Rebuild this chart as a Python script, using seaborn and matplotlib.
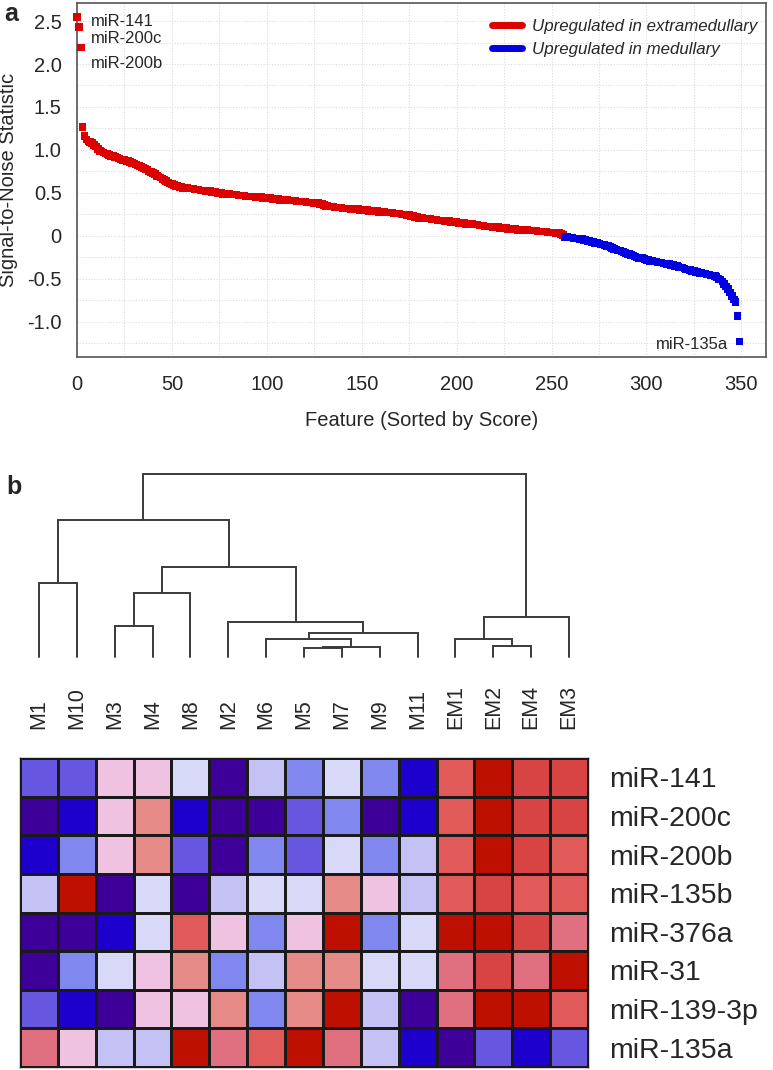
import numpy as np
import pandas as pd
import matplotlib
matplotlib.use("Agg")
import matplotlib.pyplot as plt
from matplotlib.colors import ListedColormap
from matplotlib.lines import Line2D
from matplotlib.ticker import MultipleLocator
import seaborn as sns

# ---------------- data: panel a ----------------
up_extramedullary = [
    2.55, 2.43, 2.19, 1.27, 1.16, 1.12, 1.10, 1.09, 1.08, 1.06,
    1.04, 1.01, 0.99, 0.98, 0.97, 0.96, 0.95, 0.94, 0.93, 0.93,
    0.92, 0.91, 0.90, 0.89, 0.88, 0.88, 0.87, 0.87, 0.86, 0.85,
    0.84, 0.83, 0.82, 0.81, 0.80, 0.79, 0.78, 0.77, 0.75, 0.74,
    0.73, 0.72, 0.70, 0.69, 0.68, 0.66, 0.65, 0.64, 0.62, 0.61,
    0.60, 0.59, 0.58, 0.58, 0.57, 0.57, 0.56, 0.56, 0.56, 0.55,
    0.55, 0.55, 0.54, 0.54, 0.54, 0.53, 0.53, 0.53, 0.52, 0.52,
    0.52, 0.51, 0.51, 0.51, 0.50, 0.50, 0.50, 0.49, 0.49, 0.49,
    0.49, 0.48, 0.48, 0.48, 0.48, 0.47, 0.47, 0.47, 0.47, 0.46,
    0.46, 0.46, 0.46, 0.46, 0.45, 0.45, 0.45, 0.45, 0.44, 0.44,
    0.44, 0.44, 0.44, 0.43, 0.43, 0.43, 0.43, 0.42, 0.42, 0.42,
    0.42, 0.42, 0.41, 0.41, 0.41, 0.41, 0.40, 0.40, 0.40, 0.40,
    0.40, 0.39, 0.39, 0.39, 0.39, 0.38, 0.38, 0.38, 0.37, 0.37,
    0.36, 0.35, 0.35, 0.34, 0.34, 0.34, 0.33, 0.33, 0.33, 0.33,
    0.32, 0.32, 0.32, 0.32, 0.31, 0.31, 0.31, 0.31, 0.31, 0.30,
    0.30, 0.30, 0.30, 0.30, 0.29, 0.29, 0.29, 0.29, 0.29, 0.28,
    0.28, 0.28, 0.28, 0.27, 0.27, 0.27, 0.27, 0.26, 0.26, 0.26,
    0.26, 0.25, 0.25, 0.25, 0.24, 0.24, 0.23, 0.23, 0.22, 0.22,
    0.21, 0.21, 0.21, 0.20, 0.20, 0.20, 0.20, 0.19, 0.19, 0.19,
    0.18, 0.18, 0.18, 0.18, 0.17, 0.17, 0.17, 0.16, 0.16, 0.16,
    0.16, 0.15, 0.15, 0.15, 0.15, 0.14, 0.14, 0.14, 0.14, 0.13,
    0.13, 0.13, 0.12, 0.12, 0.12, 0.11, 0.11, 0.11, 0.11, 0.10,
    0.10, 0.10, 0.10, 0.09, 0.09, 0.09, 0.09, 0.08, 0.08, 0.08,
    0.08, 0.08, 0.07, 0.07, 0.07, 0.07, 0.07, 0.07, 0.06, 0.06,
    0.06, 0.06, 0.06, 0.05, 0.05, 0.05, 0.05, 0.05, 0.04, 0.04,
    0.04, 0.04, 0.03, 0.03, 0.03, 0.02, 0.01,
]
up_medullary = [
    -0.01, -0.01, -0.02, -0.02, -0.02, -0.03, -0.03, -0.03, -0.04, -0.04,
    -0.05, -0.05, -0.06, -0.06, -0.07, -0.07, -0.08, -0.08, -0.09, -0.10,
    -0.10, -0.11, -0.12, -0.12, -0.13, -0.14, -0.15, -0.16, -0.17, -0.17,
    -0.18, -0.19, -0.20, -0.21, -0.21, -0.22, -0.23, -0.24, -0.25, -0.26,
    -0.26, -0.26, -0.27, -0.28, -0.28, -0.29, -0.29, -0.30, -0.30, -0.31,
    -0.31, -0.31, -0.32, -0.32, -0.33, -0.33, -0.34, -0.34, -0.35, -0.35,
    -0.36, -0.37, -0.37, -0.38, -0.39, -0.39, -0.40, -0.41, -0.41, -0.42,
    -0.42, -0.43, -0.43, -0.44, -0.44, -0.45, -0.45, -0.46, -0.46, -0.47,
    -0.48, -0.50, -0.51, -0.53, -0.56, -0.59, -0.62, -0.66, -0.70, -0.74,
    -0.77, -0.93, -1.23,
]
group_names = ["Upregulated in extramedullary", "Upregulated in medullary"]
group_colors = ["#dd0000", "#0000e0"]
top_labels = ["miR-141", "miR-200c", "miR-200b"]
top_label_y = [2.50, 2.30, 2.01]
bottom_label = "miR-135a"
x_ticks = [0, 50, 100, 150, 200, 250, 300, 350]
y_ticks = [-1.0, -0.5, 0, 0.5, 1.0, 1.5, 2.0, 2.5]
y_tick_labels = ["-1.0", "-0.5", "0", "0.5", "1.0", "1.5", "2.0", "2.5"]

# ---------------- data: panel b ----------------
samples = ["M1", "M10", "M3", "M4", "M8", "M2", "M6", "M5", "M7", "M9", "M11",
           "EM1", "EM2", "EM4", "EM3"]
mirnas = ["miR-141", "miR-200c", "miR-200b", "miR-135b", "miR-376a",
          "miR-31", "miR-139-3p", "miR-135a"]
# colour-bin level (0 = lowest, 11 = highest), row-normalised expression
levels = [
    [2, 2, 6, 6, 5, 0, 4, 3, 5, 3, 1, 9, 11, 10, 10],
    [0, 1, 6, 7, 1, 0, 0, 2, 3, 0, 1, 9, 11, 10, 10],
    [1, 3, 6, 7, 2, 0, 3, 2, 5, 3, 4, 9, 11, 10, 9],
    [4, 11, 0, 5, 0, 4, 5, 5, 7, 6, 4, 9, 10, 9, 9],
    [0, 0, 1, 5, 9, 6, 3, 6, 11, 3, 5, 11, 11, 10, 8],
    [0, 3, 5, 6, 7, 3, 4, 7, 7, 5, 5, 8, 10, 8, 11],
    [2, 1, 0, 6, 6, 7, 3, 7, 11, 4, 0, 8, 11, 11, 9],
    [8, 6, 4, 4, 11, 8, 9, 11, 8, 4, 1, 0, 2, 1, 2],
]
heat_colors = ["#3d0098", "#1e00cc", "#6656e0", "#8088f0", "#c4c2f4", "#d8d8f8",
               "#f0c2e2", "#e68a88", "#e07080", "#e05a5a", "#d84444", "#be1000"]
# dendrogram merges: (left, right, height)
dendro_merges = [
    ("M5", "M7", 9),
    ("n0", "M9", 10),
    ("M6", "n1", 18),
    ("n2", "M11", 24),
    ("M2", "n3", 35),
    ("M3", "M4", 31),
    ("n5", "M8", 64),
    ("n6", "n4", 90),
    ("M1", "M10", 74),
    ("n8", "n7", 137),
    ("EM2", "EM4", 11),
    ("EM1", "n10", 18),
    ("n11", "EM3", 40),
    ("n9", "n12", 183),
]

# ---------------- style ----------------
sns.set_style("white")
plt.rcParams["font.family"] = ["Liberation Sans", "DejaVu Sans"]

W, H = 773, 1070
fig = plt.figure(figsize=(W / 100, H / 100), dpi=100)


def box(l, t, r, b):
    return [l / W, 1 - b / H, (r - l) / W, (b - t) / H]


# ---------------- panel a ----------------
ax = fig.add_axes(box(77, 3, 766, 357))
scores = up_extramedullary + up_medullary
df = pd.DataFrame({
    "rank": np.arange(len(scores)),
    "score": scores,
    "group": [group_names[0]] * len(up_extramedullary) + [group_names[1]] * len(up_medullary),
})
sns.scatterplot(data=df, x="rank", y="score", hue="group", palette=group_colors,
                marker="s", s=30, linewidth=0, legend=False, ax=ax, clip_on=False, zorder=3)
ax.set_xlim(0, 363)
ax.set_ylim(-1.41, 2.71)
ax.set_xticks(x_ticks)
ax.set_xticklabels([str(v) for v in x_ticks])
ax.set_yticks(y_ticks)
ax.set_yticklabels(y_tick_labels)
ax.xaxis.set_minor_locator(MultipleLocator(25))
ax.yaxis.set_minor_locator(MultipleLocator(0.25))
ax.grid(True, which="both", color="#dcdcdc", linestyle=(0, (1, 1.5)), linewidth=0.8)
ax.tick_params(axis="both", which="major", labelsize=14.5, length=3, color="#555", direction="out")
ax.tick_params(axis="x", which="major", pad=10)
ax.tick_params(axis="y", which="major", pad=8)
ax.tick_params(axis="both", which="minor", length=0)
for s in ax.spines.values():
    s.set_color("#555")
    s.set_linewidth(1.2)
ax.set_xlabel("Feature (Sorted by Score)", fontsize=14.5, labelpad=12)
ax.set_ylabel("Signal-to-Noise Statistic", fontsize=14.5)
ax.yaxis.set_label_coords(-0.086, 0.5)

for lab, yv in zip(top_labels, top_label_y):
    ax.text(7.5, yv, lab, fontsize=12, va="center", ha="left")
ax.text(343, -1.27, bottom_label, fontsize=12, va="center", ha="right")

handles = [Line2D([0], [0], color=c, lw=5) for c in group_colors]
leg = ax.legend(handles, group_names, loc="upper left", bbox_to_anchor=(0.603, 0.955),
                frameon=False, borderpad=0, borderaxespad=0, handlelength=1.75,
                handletextpad=0.6, labelspacing=0.45,
                prop={"size": 12.2, "style": "italic", "family": ["Liberation Sans"]})

fig.text(4 / W, 1 - 14 / H, "a", fontsize=18, fontweight="bold", va="center", ha="left")

# ---------------- panel b: dendrogram ----------------
axd = fig.add_axes(box(20, 474, 588, 657))
pos = {name: i + 0.5 for i, name in enumerate(samples)}
hgt = {name: 0.0 for name in samples}
for k, (a, b, h) in enumerate(dendro_merges):
    xa, xb = pos[a], pos[b]
    ha_, hb_ = hgt[a], hgt[b]
    axd.plot([xa, xa, xb, xb], [ha_, h, h, hb_], color="#3a3a3a", lw=1.4,
             solid_joinstyle="miter", clip_on=False)
    pos[f"n{k}"] = (xa + xb) / 2
    hgt[f"n{k}"] = h
axd.set_xlim(0, len(samples))
axd.set_ylim(0, 183)
axd.axis("off")

fig.text(6 / W, 1 - 487 / H, "b", fontsize=18, fontweight="bold", va="center", ha="left")

# ---------------- panel b: heatmap ----------------
axh = fig.add_axes(box(20, 758, 588, 1067))
hm = pd.DataFrame(levels, index=mirnas, columns=samples)
sns.heatmap(hm, cmap=ListedColormap(heat_colors), vmin=-0.5, vmax=11.5, cbar=False,
            linewidths=1.0, linecolor="#1a1a1a", ax=axh)
axh.xaxis.tick_top()
axh.yaxis.tick_right()
axh.set_xticklabels(samples, rotation=90, fontsize=15.5)
axh.set_yticklabels(mirnas, rotation=0, fontsize=20.5)
axh.tick_params(axis="x", length=0, pad=21)
axh.tick_params(axis="y", length=0, pad=15)
axh.set_xlabel("")
axh.set_ylabel("")
for s in axh.spines.values():
    s.set_visible(True)
    s.set_color("#1a1a1a")
    s.set_linewidth(1.0)

fig.savefig("out.png", dpi=100)
